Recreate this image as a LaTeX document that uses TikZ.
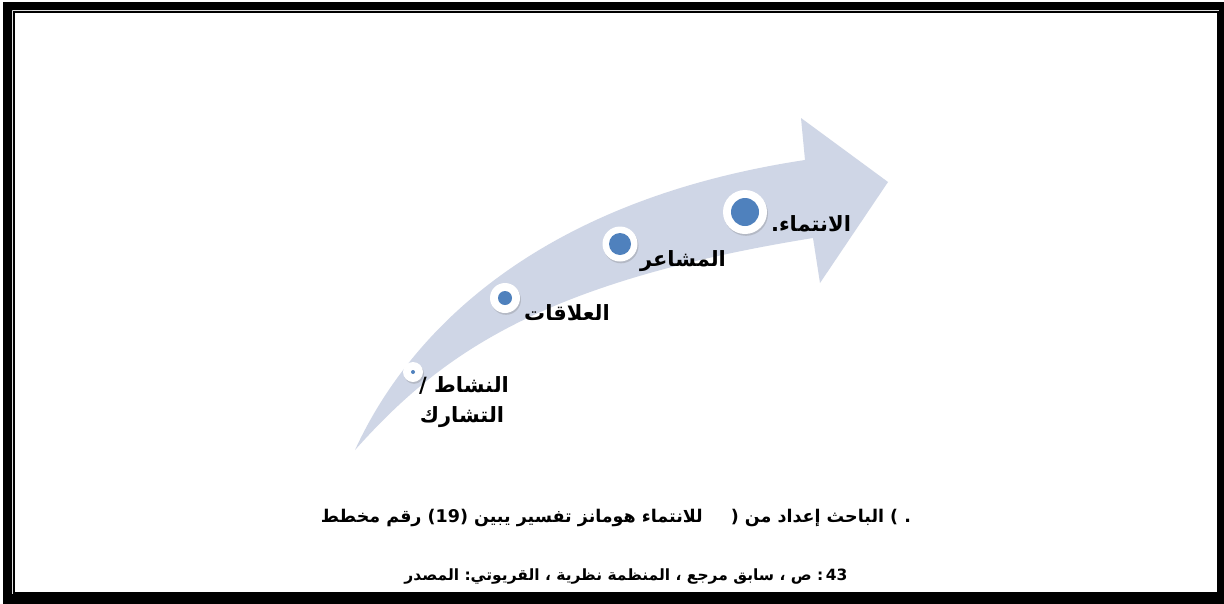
\documentclass[tikz,border=0pt]{standalone}
\usepackage{fontspec}
\newfontfamily\arabicfont[Script=Arabic]{DejaVu Sans}
\TeXXeTstate=1
\usetikzlibrary{shadows}
\definecolor{band}{RGB}{207,214,230}
\definecolor{dotblue}{RGB}{79,129,189}
\newcommand{\awd}[1]{\mbox{#1}}
\begin{document}
\begin{tikzpicture}[x=1pt,y=-1pt,
  ring/.style={circle,fill=white,inner sep=0pt,
    drop shadow={shadow xshift=1pt,shadow yshift=-1.8pt,opacity=0.25,fill=black!60}},
  core/.style={circle,fill=dotblue,inner sep=0pt},
  lab/.style={font=\arabicfont\bfseries\fontsize{21}{33}\selectfont,inner sep=0pt,align=center},
  capone/.style={font=\arabicfont\bfseries\fontsize{17.5}{20}\selectfont,inner sep=0pt},
  captwo/.style={font=\arabicfont\bfseries\fontsize{15.5}{20}\selectfont,inner sep=0pt}]
\useasboundingbox (0,0) rectangle (1224,603);
\fill[white] (0,0) rectangle (1224,603);
% frame
\fill[black,even odd rule] (3,2) rectangle (1226,605) (12,10) rectangle (1219,594);
\draw[black,line width=1.8pt] (13.9,11.9) rectangle (1217.6,592.6);
% curved arrow
\fill[band] (355,450) .. controls (410,330) and (540,200) .. (805,160)
  -- (801,118) -- (888,182) -- (820,283) -- (813,238)
  .. controls (540,282) and (440,355) .. cycle;
% dots
\node[ring,minimum size=20pt] (d1) at (413,372) {};
\node[core,minimum size=4pt] (c1) at (d1) {};
\node[ring,minimum size=30pt] (d2) at (505,298) {};
\node[core,minimum size=14pt] (c2) at (d2) {};
\node[ring,minimum size=35pt] (d3) at (620,244) {};
\node[core,minimum size=22pt] (c3) at (d3) {};
\node[ring,minimum size=44pt] (d4) at (745,212) {};
\node[core,minimum size=28pt] (c4) at (d4) {};
% labels
\node[lab] (l1a) at (464,385) {\awd{/} \awd{النشاط}};
\node[lab] (l1b) at (462,417) {\awd{التشارك}};
\node[lab] (l2) at (567,313) {\awd{العلاقات}};
\node[lab] (l3) at (683,261) {\awd{المشاعر}};
\node[lab] (l4) at (811,224) {\awd{.}\awd{الانتماء}};
% captions
\node[capone] (t1) at (616,518) {\awd{مخطط} \awd{رقم} \awd{(19)} \awd{يبين} \awd{تفسير} \awd{هومانز} \awd{للانتماء}\hspace{22pt} \awd{(} \awd{من} \awd{إعداد} \awd{الباحث} \awd{)} \awd{.}};
\node[captwo] (t2) at (626,577) {\awd{المصدر} \awd{:}\awd{القريوتي} \awd{،} \awd{نظرية} \awd{المنظمة} \awd{،} \awd{مرجع} \awd{سابق} \awd{،} \awd{ص} \awd{:}\,\awd{43}};
\end{tikzpicture}
\end{document}
